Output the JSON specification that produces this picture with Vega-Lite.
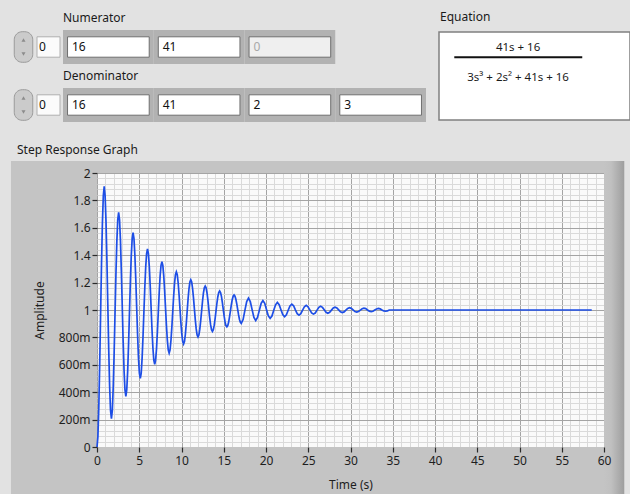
{
  "$schema": "https://vega.github.io/schema/vega-lite/v6.json",
  "background": "#e2e2e2",
  "padding": {"left": 10, "top": 10, "right": 0, "bottom": 0},
  "config": {
    "font": "Noto Sans",
    "view": {"stroke": null},
    "title": {"fontSize": 12, "fontWeight": "normal", "color": "#1a1a1a", "anchor": "start"},
    "axis": {"labelFontSize": 12, "labelColor": "#1e1e1e", "titleFontSize": 12, "titleFontWeight": "normal", "titleColor": "#1e1e1e"}
  },
  "datasets": {
    "indices": [
      {"poly": "Numerator", "index": 0},
      {"poly": "Denominator", "index": 0}
    ],
    "coefficients": [
      {"poly": "Numerator", "i": 0, "value": "16", "state": "enabled"},
      {"poly": "Numerator", "i": 1, "value": "41", "state": "enabled"},
      {"poly": "Numerator", "i": 2, "value": "0", "state": "disabled"},
      {"poly": "Denominator", "i": 0, "value": "16", "state": "enabled"},
      {"poly": "Denominator", "i": 1, "value": "41", "state": "enabled"},
      {"poly": "Denominator", "i": 2, "value": "2", "state": "enabled"},
      {"poly": "Denominator", "i": 3, "value": "3", "state": "enabled"}
    ],
    "equation": [
      {"part": "numerator", "text": "41s + 16"},
      {"part": "denominator", "text": "3s³ + 2s² + 41s + 16"}
    ],
    "response": [
      {"t":0,"y":0},{"t":0.107,"y":0.076},{"t":0.213,"y":0.29},{"t":0.32,"y":0.605},{"t":0.427,"y":0.972},{"t":0.534,"y":1.334},{"t":0.64,"y":1.635},{"t":0.747,"y":1.834},{"t":0.854,"y":1.903},{"t":0.96,"y":1.834},{"t":1.067,"y":1.644},{"t":1.174,"y":1.362},{"t":1.281,"y":1.035},{"t":1.387,"y":0.713},{"t":1.494,"y":0.444},{"t":1.601,"y":0.267},
      {"t":1.708,"y":0.206},{"t":1.814,"y":0.266},{"t":1.921,"y":0.436},{"t":2.028,"y":0.686},{"t":2.134,"y":0.976},{"t":2.241,"y":1.262},{"t":2.348,"y":1.501},{"t":2.455,"y":1.659},{"t":2.561,"y":1.713},{"t":2.668,"y":1.659},{"t":2.775,"y":1.508},{"t":2.881,"y":1.286},{"t":2.988,"y":1.027},{"t":3.095,"y":0.772},{"t":3.202,"y":0.559},{"t":3.308,"y":0.419},
      {"t":3.415,"y":0.37},{"t":3.522,"y":0.418},{"t":3.628,"y":0.552},{"t":3.735,"y":0.75},{"t":3.842,"y":0.98},{"t":3.949,"y":1.207},{"t":4.055,"y":1.396},{"t":4.162,"y":1.521},{"t":4.269,"y":1.564},{"t":4.376,"y":1.521},{"t":4.482,"y":1.402},{"t":4.589,"y":1.225},{"t":4.696,"y":1.021},{"t":4.802,"y":0.819},{"t":4.909,"y":0.65},{"t":5.016,"y":0.539},
      {"t":5.123,"y":0.501},{"t":5.229,"y":0.538},{"t":5.336,"y":0.645},{"t":5.443,"y":0.802},{"t":5.549,"y":0.984},{"t":5.656,"y":1.163},{"t":5.763,"y":1.313},{"t":5.87,"y":1.412},{"t":5.976,"y":1.446},{"t":6.083,"y":1.412},{"t":6.19,"y":1.318},{"t":6.296,"y":1.178},{"t":6.403,"y":1.016},{"t":6.51,"y":0.856},{"t":6.617,"y":0.723},{"t":6.723,"y":0.635},
      {"t":6.83,"y":0.604},{"t":6.937,"y":0.634},{"t":7.044,"y":0.718},{"t":7.15,"y":0.843},{"t":7.257,"y":0.987},{"t":7.364,"y":1.129},{"t":7.47,"y":1.248},{"t":7.577,"y":1.326},{"t":7.684,"y":1.353},{"t":7.791,"y":1.326},{"t":7.897,"y":1.251},{"t":8.004,"y":1.141},{"t":8.111,"y":1.012},{"t":8.217,"y":0.886},{"t":8.324,"y":0.78},{"t":8.431,"y":0.71},
      {"t":8.538,"y":0.686},{"t":8.644,"y":0.71},{"t":8.751,"y":0.777},{"t":8.858,"y":0.875},{"t":8.965,"y":0.989},{"t":9.071,"y":1.102},{"t":9.178,"y":1.196},{"t":9.285,"y":1.258},{"t":9.391,"y":1.279},{"t":9.498,"y":1.258},{"t":9.605,"y":1.199},{"t":9.712,"y":1.111},{"t":9.818,"y":1.01},{"t":9.925,"y":0.91},{"t":10.032,"y":0.826},{"t":10.138,"y":0.771},
      {"t":10.245,"y":0.752},{"t":10.352,"y":0.77},{"t":10.459,"y":0.823},{"t":10.565,"y":0.901},{"t":10.672,"y":0.992},{"t":10.779,"y":1.081},{"t":10.885,"y":1.155},{"t":10.992,"y":1.204},{"t":11.099,"y":1.221},{"t":11.206,"y":1.204},{"t":11.312,"y":1.157},{"t":11.419,"y":1.088},{"t":11.526,"y":1.008},{"t":11.633,"y":0.928},{"t":11.739,"y":0.862},{"t":11.846,"y":0.818},
      {"t":11.953,"y":0.803},{"t":12.059,"y":0.818},{"t":12.166,"y":0.86},{"t":12.273,"y":0.922},{"t":12.38,"y":0.993},{"t":12.486,"y":1.064},{"t":12.593,"y":1.123},{"t":12.7,"y":1.162},{"t":12.806,"y":1.175},{"t":12.913,"y":1.162},{"t":13.02,"y":1.125},{"t":13.127,"y":1.07},{"t":13.233,"y":1.006},{"t":13.34,"y":0.943},{"t":13.447,"y":0.891},{"t":13.553,"y":0.856},
      {"t":13.66,"y":0.844},{"t":13.767,"y":0.856},{"t":13.874,"y":0.889},{"t":13.98,"y":0.938},{"t":14.087,"y":0.995},{"t":14.194,"y":1.051},{"t":14.3,"y":1.097},{"t":14.407,"y":1.128},{"t":14.514,"y":1.139},{"t":14.621,"y":1.128},{"t":14.727,"y":1.099},{"t":14.834,"y":1.055},{"t":14.941,"y":1.005},{"t":15.048,"y":0.955},{"t":15.154,"y":0.913},{"t":15.261,"y":0.886},
      {"t":15.368,"y":0.877},{"t":15.474,"y":0.886},{"t":15.581,"y":0.912},{"t":15.688,"y":0.951},{"t":15.795,"y":0.996},{"t":15.901,"y":1.04},{"t":16.008,"y":1.077},{"t":16.115,"y":1.101},{"t":16.221,"y":1.11},{"t":16.328,"y":1.101},{"t":16.435,"y":1.078},{"t":16.542,"y":1.044},{"t":16.648,"y":1.004},{"t":16.755,"y":0.964},{"t":16.862,"y":0.931},{"t":16.969,"y":0.91},
      {"t":17.075,"y":0.902},{"t":17.289,"y":0.93},{"t":17.502,"y":0.997},{"t":17.716,"y":1.061},{"t":17.929,"y":1.087},{"t":18.142,"y":1.062},{"t":18.356,"y":1.003},{"t":18.569,"y":0.946},
      {"t":18.783,"y":0.923},{"t":18.996,"y":0.945},{"t":19.21,"y":0.997},{"t":19.423,"y":1.048},{"t":19.636,"y":1.069},{"t":19.85,"y":1.049},{"t":20.063,"y":1.002},{"t":20.277,"y":0.957},
      {"t":20.49,"y":0.939},{"t":20.704,"y":0.956},{"t":20.917,"y":0.998},{"t":21.131,"y":1.038},{"t":21.344,"y":1.055},{"t":21.557,"y":1.039},{"t":21.771,"y":1.002},{"t":21.984,"y":0.966},
      {"t":22.198,"y":0.951},{"t":22.411,"y":0.965},{"t":22.625,"y":0.998},{"t":22.838,"y":1.03},{"t":23.052,"y":1.043},{"t":23.265,"y":1.031},{"t":23.478,"y":1.001},{"t":23.692,"y":0.973},
      {"t":23.905,"y":0.962},{"t":24.119,"y":0.973},{"t":24.332,"y":0.999},{"t":24.546,"y":1.024},{"t":24.759,"y":1.034},{"t":24.973,"y":1.024},{"t":25.186,"y":1.001},{"t":25.399,"y":0.979},
      {"t":25.613,"y":0.97},{"t":25.826,"y":0.978},{"t":26.04,"y":0.999},{"t":26.253,"y":1.019},{"t":26.467,"y":1.027},{"t":26.68,"y":1.019},{"t":26.893,"y":1.001},{"t":27.107,"y":0.983},
      {"t":27.32,"y":0.976},{"t":27.534,"y":0.983},{"t":27.747,"y":0.999},{"t":27.961,"y":1.015},{"t":28.174,"y":1.021},{"t":28.388,"y":1.015},{"t":28.601,"y":1.001},{"t":28.814,"y":0.987},
      {"t":29.028,"y":0.981},{"t":29.241,"y":0.986},{"t":29.455,"y":0.999},{"t":29.668,"y":1.012},{"t":29.882,"y":1.017},{"t":30.095,"y":1.012},{"t":30.309,"y":1.001},{"t":30.522,"y":0.989},
      {"t":30.735,"y":0.985},{"t":30.949,"y":0.989},{"t":31.162,"y":0.999},{"t":31.376,"y":1.009},{"t":31.589,"y":1.013},{"t":31.803,"y":1.01},{"t":32.016,"y":1.0},{"t":32.229,"y":0.992},
      {"t":32.443,"y":0.988},{"t":32.656,"y":0.991},{"t":32.87,"y":1.0},{"t":33.083,"y":1.007},{"t":33.297,"y":1.011},{"t":33.51,"y":1.008},{"t":33.724,"y":1.0},{"t":33.937,"y":0.993},
      {"t":34.15,"y":0.991},{"t":34.364,"y":0.993},{"t":34.577,"y":1.0},{"t":58.55,"y":1.0}
    ]
  },
  "spacing": 21,
  "vconcat": [
    {
      "spacing": 12,
      "hconcat": [
        {
          "width": 329,
          "height": 90,
          "resolve": {"scale": {"x": "independent"}},
          "encoding": {
            "y": {"field": "poly", "type": "nominal", "scale": {"domain": ["Numerator", "Denominator"], "range": [-2, 90], "paddingInner": 0.414, "paddingOuter": 0}, "axis": null}
          },
          "layer": [
            {
              "data": {"name": "indices"},
              "layer": [
                {"mark": {"type": "rect", "width": {"band": 0.74}, "height": {"band": 0.9}, "cornerRadius": 8, "fill": "#cbcbcb", "stroke": "#9a9a9a", "strokeWidth": 1},
                 "encoding": {"x": {"datum": "spin", "type": "nominal", "scale": {"domain": ["spin", "idx"], "range": [-86, -36], "paddingInner": 0, "paddingOuter": 0}, "axis": null}}},
                {"mark": {"type": "point", "shape": "triangle-up", "filled": true, "size": 16, "color": "#707070", "yOffset": -7},
                 "encoding": {"x": {"datum": "spin", "type": "nominal", "axis": null}}},
                {"mark": {"type": "point", "shape": "triangle-down", "filled": true, "size": 16, "color": "#707070", "yOffset": 7},
                 "encoding": {"x": {"datum": "spin", "type": "nominal", "axis": null}}},
                {"mark": {"type": "rect", "width": {"band": 0.92}, "height": {"band": 0.6}, "fill": "#fbfbfb", "stroke": "#b0b0b0", "strokeWidth": 1},
                 "encoding": {"x": {"datum": "idx", "type": "nominal", "axis": null}}},
                {"mark": {"type": "text", "align": "left", "baseline": "middle", "dx": 3, "fontSize": 12, "color": "#111111"},
                 "encoding": {"x": {"datum": "idx", "type": "nominal", "bandPosition": 0, "axis": null}, "text": {"field": "index"}}}
              ]
            },
            {
              "data": {"name": "coefficients"},
              "layer": [
                {"mark": {"type": "rect", "fill": "#b2b2b2"},
                 "encoding": {"x": {"field": "i", "type": "ordinal", "scale": {"domain": [0, 1, 2, 3], "range": [-34, 329], "paddingInner": 0, "paddingOuter": 0}, "axis": null}}},
                {"mark": {"type": "rect", "width": {"band": 0.9}, "height": {"band": 0.6}, "stroke": "#6f6f6f", "strokeWidth": 1},
                 "encoding": {
                   "x": {"field": "i", "type": "ordinal", "axis": null},
                   "fill": {"field": "state", "type": "nominal", "scale": {"domain": ["enabled", "disabled"], "range": ["#ffffff", "#efefef"]}, "legend": null}
                 }},
                {"mark": {"type": "text", "align": "left", "baseline": "middle", "dx": 9, "fontSize": 12},
                 "encoding": {
                   "x": {"field": "i", "type": "ordinal", "bandPosition": 0, "axis": null},
                   "text": {"field": "value"},
                   "color": {"field": "state", "type": "nominal", "scale": {"domain": ["enabled", "disabled"], "range": ["#111111", "#a8a8a8"]}, "legend": null}
                 }},
                {"transform": [{"filter": "datum.i == 0"}],
                 "mark": {"type": "text", "align": "left", "baseline": "middle", "dy": -29, "fontSize": 12, "color": "#1a1a1a"},
                 "encoding": {
                   "x": {"field": "i", "type": "ordinal", "bandPosition": 0, "axis": null},
                   "text": {"field": "poly"}
                 }}
              ]
            }
          ]
        },
        {
          "width": 191,
          "height": 88,
          "title": {"text": "Equation", "offset": 8, "dx": 1},
          "view": {"fill": "#ffffff", "stroke": "#808080", "strokeWidth": 1.5},
          "layer": [
            {"data": {"name": "equation"},
             "mark": {"type": "text", "fontSize": 11.5, "color": "#1a1a1a", "align": "center", "baseline": "middle"},
             "encoding": {
               "y": {"field": "part", "type": "nominal", "scale": {"type": "point", "domain": ["numerator", "denominator"], "padding": 1.413, "align": 0.277}, "axis": null},
               "x": {"datum": 0.414, "type": "quantitative", "scale": {"domain": [0, 1], "nice": false}, "axis": null},
               "text": {"field": "text"}
             }},
            {"data": {"values": [{}]},
             "mark": {"type": "rule", "strokeWidth": 2, "color": "#111111", "yOffset": 9},
             "encoding": {
               "y": {"datum": "numerator", "type": "nominal", "axis": null},
               "x": {"datum": 0.08, "type": "quantitative", "axis": null},
               "x2": {"datum": 0.75}
             }}
          ]
        }
      ]
    },
    {
      "width": 507,
      "height": 274,
      "title": {"text": "Step Response Graph", "frame": "bounds", "offset": 4, "dx": 6},
      "view": {"fill": "#fafafa"},
      "resolve": {"axis": {"x": "independent", "y": "independent"}},
      "layer": [
        {"data": {"values": [{}]},
         "mark": {"type": "rect", "fill": "#c4c4c4"},
         "encoding": {
           "x": {"datum": -10.18, "type": "quantitative", "scale": {"domain": [0, 60], "nice": false, "zero": false},
                 "axis": {"orient": "bottom", "title": "Time (s)", "values": [0,5,10,15,20,25,30,35,40,45,50,55,60], "grid": false, "domain": false, "tickSize": 5, "tickColor": "#2a2a2a", "tickWidth": 1.2, "labelPadding": 3, "labelFlush": false, "labelOverlap": false, "titlePadding": 13, "zindex": 1}},
           "x2": {"datum": 0},
           "y": {"datum": -0.4, "type": "quantitative", "scale": {"domain": [0, 2], "nice": false, "zero": false},
                 "axis": {"orient": "left", "title": "Amplitude", "values": [0,0.2,0.4,0.6,0.8,1,1.2,1.4,1.6,1.8,2], "labelExpr": "datum.value == 0 ? '0' : (datum.value < 0.999 ? format(datum.value * 1000, 'd') + 'm' : format(datum.value, '~g'))", "grid": false, "domain": false, "tickSize": 5, "tickColor": "#2a2a2a", "tickWidth": 1.2, "labelPadding": 2, "labelOverlap": false, "labelFlush": false, "titlePadding": 12, "zindex": 1}},
           "y2": {"datum": 2.088}
         }},
        {"data": {"values": [{}]},
         "mark": {"type": "rect", "fill": {"gradient": "linear", "x1": 0, "y1": 0, "x2": 1, "y2": 0, "stops": [{"offset": 0, "color": "#c4c4c4"}, {"offset": 0.35, "color": "#c0c0c0"}, {"offset": 1, "color": "#9e9e9e"}]}},
         "encoding": {
           "x": {"datum": 60, "type": "quantitative", "axis": null},
           "x2": {"datum": 62.4},
           "y": {"datum": -0.4, "type": "quantitative", "axis": null},
           "y2": {"datum": 2.088}
         }},
        {"data": {"values": [{}]},
         "mark": {"type": "rect", "fill": "#c4c4c4"},
         "encoding": {
           "x": {"datum": 0, "type": "quantitative", "axis": null},
           "x2": {"datum": 60},
           "y": {"datum": 2, "type": "quantitative", "axis": null},
           "y2": {"datum": 2.088}
         }},
        {"data": {"values": [{}]},
         "mark": {"type": "rect", "fill": "#c4c4c4"},
         "encoding": {
           "x": {"datum": 0, "type": "quantitative", "axis": null},
           "x2": {"datum": 60},
           "y": {"datum": -0.4, "type": "quantitative", "axis": null},
           "y2": {"datum": 0}
         }},
        {"data": {"name": "response"},
         "mark": {"type": "line", "color": "#1d4ee6", "strokeWidth": 1.7},
         "encoding": {
           "x": {"field": "t", "type": "quantitative", "scale": {"domain": [0, 60], "nice": false, "zero": false},
                 "axis": {"orient": "top", "title": null, "labels": false, "ticks": false, "domain": false, "grid": true, "zindex": 0,
                          "values": [0,1,2,3,4,5,6,7,8,9,10,11,12,13,14,15,16,17,18,19,20,21,22,23,24,25,26,27,28,29,30,31,32,33,34,35,36,37,38,39,40,41,42,43,44,45,46,47,48,49,50,51,52,53,54,55,56,57,58,59,60],
                          "gridColor": {"condition": {"test": "datum.value % 5 === 0", "value": "#a4a4a4"}, "value": "#dadada"}, "gridWidth": 1, "gridOpacity": 1}},
           "y": {"field": "y", "type": "quantitative", "scale": {"domain": [0, 2], "nice": false, "zero": false},
                 "axis": {"orient": "right", "title": null, "labels": false, "ticks": false, "domain": false, "grid": true, "zindex": 0,
                          "values": [0,0.04,0.08,0.12,0.16,0.2,0.24,0.28,0.32,0.36,0.4,0.44,0.48,0.52,0.56,0.6,0.64,0.68,0.72,0.76,0.8,0.84,0.88,0.92,0.96,1,1.04,1.08,1.12,1.16,1.2,1.24,1.28,1.32,1.36,1.4,1.44,1.48,1.52,1.56,1.6,1.64,1.68,1.72,1.76,1.8,1.84,1.88,1.92,1.96,2],
                          "gridColor": {"condition": {"test": "abs(datum.value * 5 - round(datum.value * 5)) < 0.001", "value": "#a4a4a4"}, "value": "#dadada"}, "gridWidth": 1, "gridOpacity": 1}}
         }}
      ]
    }
  ]
}
